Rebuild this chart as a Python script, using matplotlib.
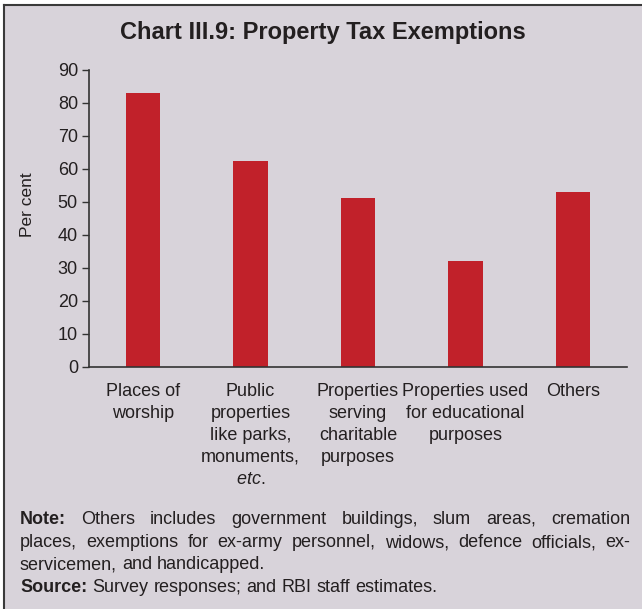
import matplotlib.pyplot as plt
from matplotlib.lines import Line2D
from matplotlib.patches import Rectangle

plt.rcParams['font.family'] = ['Liberation Sans', 'DejaVu Sans']
plt.rcParams['mathtext.fontset'] = 'custom'
plt.rcParams['mathtext.rm'] = 'Liberation Sans'
plt.rcParams['mathtext.it'] = 'Liberation Sans:italic'

categories = [
    "Places of\nworship",
    "Public\nproperties\nlike parks,\nmonuments,\n$\\it{etc.}$",
    "Properties\nserving\ncharitable\npurposes",
    "Properties used\nfor educational\npurposes",
    "Others",
]
values = [83, 62.5, 51, 32, 53]
yticks = [0, 10, 20, 30, 40, 50, 60, 70, 80, 90]

title = "Chart III.9: Property Tax Exemptions"
note_lines = [
    ("Note:", "Others includes government buildings, slum areas, cremation", True),
    (None, "places, exemptions for ex-army personnel, widows, defence officials, ex-", True),
    (None, "servicemen, and handicapped.", False),
    ("Source:", "Survey responses; and RBI staff estimates.", False),
]

BG = '#d8d3da'
RED = '#c1212a'
INK = '#231f20'
W, H = 642, 609

fig = plt.figure(figsize=(W / 100, H / 100), dpi=100, facecolor='white')

# panel background and its frame (left and top edges)
fig.patches.append(Rectangle((3.5 / W, 0), 1, 1 - 4.5 / H, transform=fig.transFigure,
                             facecolor=BG, edgecolor='none', zorder=-5))
fig.lines.append(Line2D([3.5 / W, 3.5 / W], [0, 1 - 4.5 / H], transform=fig.transFigure,
                        color='#3a3a3a', lw=1.5, zorder=-4))
fig.lines.append(Line2D([3.5 / W, 1], [1 - 4.5 / H, 1 - 4.5 / H], transform=fig.transFigure,
                        color='#3a3a3a', lw=1.5, zorder=-4))

fig.text(323 / W, 1 - 32 / H, title, ha='center', va='center',
         fontsize=17, fontweight='bold', color=INK)

ax = fig.add_axes([89 / W, 1 - 366.5 / H, 538 / W, 296.5 / H])
ax.set_facecolor('none')
x = range(len(categories))
ax.bar(x, values, width=0.32, color=RED, zorder=2)
ax.set_xlim(-0.5, 4.5)
ax.set_ylim(0, 90)
ax.set_yticks(yticks)
ax.set_xticks(list(x))
ax.set_xticklabels(categories, fontsize=13, color=INK, linespacing=1.38)
ax.tick_params(axis='x', length=0, pad=12)
ax.tick_params(axis='y', direction='out', length=5, width=1, color='#333333',
               labelsize=13, labelcolor=INK, pad=3)
for s in ('top', 'right'):
    ax.spines[s].set_visible(False)
for s in ('left', 'bottom'):
    ax.spines[s].set_color('#333333')
    ax.spines[s].set_linewidth(1.2)
ax.set_ylabel("Per cent", fontsize=12.5, color=INK)
ax.yaxis.set_label_coords(-0.10, 0.545)

# justified note block underneath the chart
renderer = fig.canvas.get_renderer()
left_px, right_px = 20, 630
baseline_y = [524, 547, 569, 592]
fs = 13
for (head, body, justify), ypx in zip(note_lines, baseline_y):
    words = []
    if head:
        words.append((head, 'bold'))
    words += [(w, 'normal') for w in body.split()]
    arts = []
    for w, wt in words:
        t = fig.text(0, 1 - ypx / H, w, fontsize=fs, fontweight=wt, color=INK, va='baseline')
        arts.append(t)
    widths = [a.get_window_extent(renderer).width for a in arts]
    if justify and len(arts) > 1:
        gap = (right_px - left_px - sum(widths)) / (len(arts) - 1)
    else:
        gap = fs * 100 / 72 * 0.278
    pos = left_px
    for a, wd in zip(arts, widths):
        a.set_x(pos / W)
        pos += wd + gap

fig.savefig('out.png', dpi=100, facecolor='white')
